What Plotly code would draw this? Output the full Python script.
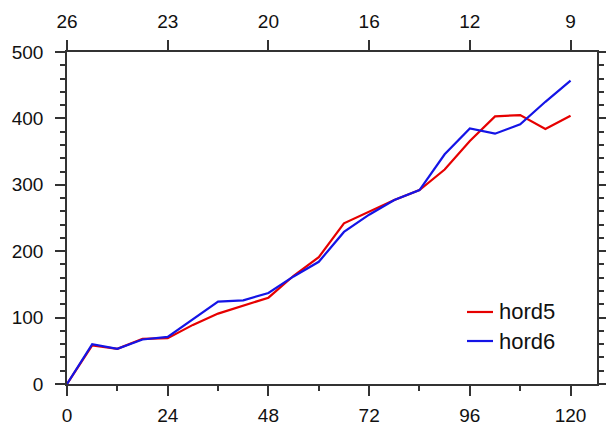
import plotly.graph_objects as go

# Forecast lead time (hours) and the two schemes' values
lead_hours = [0, 6, 12, 18, 24, 30, 36, 42, 48, 54, 60, 66, 72, 78, 84, 90, 96, 102, 108, 114, 120]
hord5 = [0, 58, 53, 68, 69, 89, 106, 118, 130, 163, 191, 242, 260, 277, 292, 323, 366, 403, 405, 384, 404]
hord6 = [0, 60, 53, 67, 71, 98, 124, 126, 137, 162, 184, 229, 255, 277, 292, 346, 385, 377, 391, 425, 457]

series_names = ["hord5", "hord6"]
series_colors = ["#e60000", "#1414e6"]

# Labels along the upper axis, one per major lead-time tick
top_tick_vals = [0, 24, 48, 72, 96, 120]
top_tick_text = ["26", "23", "20", "16", "12", "9"]

FONT = "Liberation Sans, Arial, Helvetica, sans-serif"
AXIS_COLOR = "#333333"

fig = go.Figure()
for name, values, color in zip(series_names, [hord5, hord6], series_colors):
    fig.add_trace(go.Scatter(x=lead_hours, y=values, mode="lines", name=name,
                             line=dict(color=color, width=2.2), showlegend=False))

# Invisible trace so the upper axis is drawn
fig.add_trace(go.Scatter(x=[0, 120], y=[None, None], xaxis="x2", showlegend=False,
                         hoverinfo="skip", mode="lines"))

axis_common = dict(showgrid=False, zeroline=False, showline=True, linecolor=AXIS_COLOR,
                   linewidth=1.5, ticks="outside", ticklen=10, tickwidth=1.5,
                   tickcolor=AXIS_COLOR, automargin=False,
                   tickfont=dict(family=FONT, size=19, color="#111"))

fig.update_layout(
    width=606, height=426,
    margin=dict(l=67, r=9, t=52, b=42),
    paper_bgcolor="white", plot_bgcolor="white",
    showlegend=False,
    xaxis=dict(range=[0, 126.3], tickvals=top_tick_vals, ticklabelstandoff=3,
               minor=dict(tickvals=[12, 36, 60, 84, 108], ticks="outside", ticklen=5,
                          tickwidth=1.5, tickcolor=AXIS_COLOR),
               **axis_common),
    xaxis2=dict(range=[0, 126.3], overlaying="x", side="top", tickvals=top_tick_vals,
                ticktext=top_tick_text, ticklabelstandoff=5, **axis_common),
    yaxis=dict(range=[0, 500], tickvals=[0, 100, 200, 300, 400, 500], mirror="ticks",
               ticklabelstandoff=8,
               minor=dict(dtick=20, ticks="outside", ticklen=5, tickwidth=1.5,
                          tickcolor=AXIS_COLOR),
               **axis_common),
)

# Legend drawn as short line samples with labels, lower right of the plot area
legend_x0, legend_x1, legend_text_x = 0.7547, 0.8038, 0.8113
legend_rows_y = [0.2169, 0.1295]
for name, color, ly in zip(series_names, series_colors, legend_rows_y):
    fig.add_shape(type="line", xref="paper", yref="paper", x0=legend_x0, x1=legend_x1,
                  y0=ly, y1=ly, line=dict(color=color, width=2.2))
    fig.add_annotation(xref="paper", yref="paper", x=legend_text_x, y=ly, text=name,
                       showarrow=False, xanchor="left", yanchor="middle",
                       font=dict(family=FONT, size=22, color="#111"))

fig.write_html("out.html")
